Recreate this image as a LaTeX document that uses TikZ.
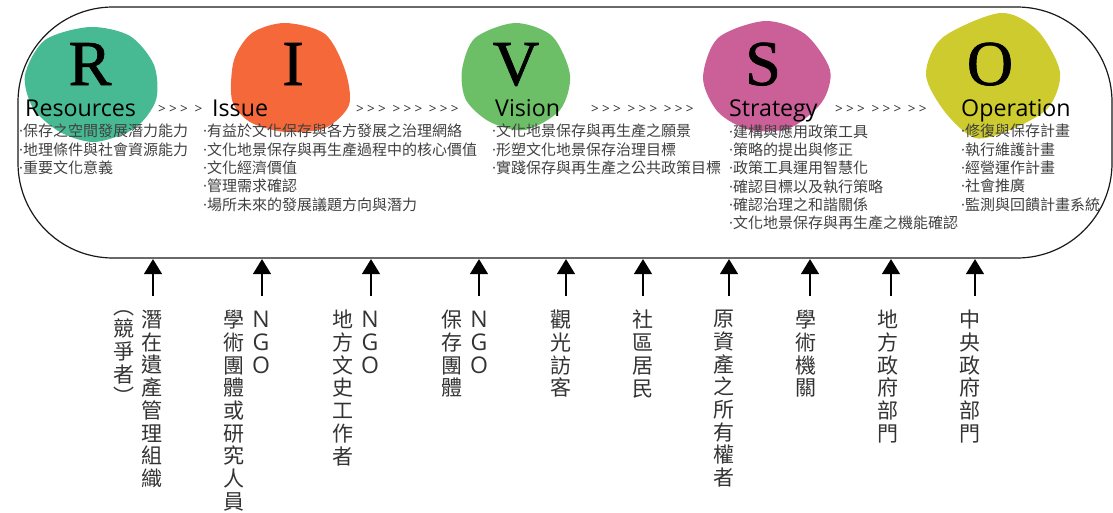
\documentclass[tikz,border=0pt]{standalone}
\usepackage{fontspec}
\setmainfont{Open Sans}
\newfontfamily\cjk{Noto Sans CJK TC}
\newfontfamily\capfont[RawFeature={embolden=1.2}]{Liberation Serif}
\newfontfamily\chevfont[LetterSpace=24]{Open Sans}
\usetikzlibrary{positioning,arrows.meta}
\definecolor{colR}{HTML}{48BA93}
\definecolor{colI}{HTML}{F4683A}
\definecolor{colV}{HTML}{6DBF67}
\definecolor{colS}{HTML}{CB6098}
\definecolor{colO}{HTML}{CDCB2E}
\newcommand{\dt}{{\rmfamily ·}}
\tikzset{
    frameB/.style={draw=black!90, line width=1.2pt, rounded corners=95pt, minimum width=1094pt, minimum height=251pt, inner sep=0mm},
    capL/.style={font=\capfont\fontsize{64}{64}\selectfont, inner sep=0mm, anchor=base},
    titleL/.style={font=\fontsize{23.2}{24}\selectfont, inner sep=0mm, anchor=base west},
    chevL/.style={font=\chevfont\fontsize{13.5}{14}\selectfont, text=black!80, inner sep=0mm, anchor=base west},
    listL/.style={font=\cjk\fontsize{15}{18.3}\selectfont, text=black!75, align=left, inner sep=0mm, anchor=north west},
    vertL/.style={font=\cjk\fontsize{21}{22.7}\selectfont, text=black!80, align=center, inner sep=0mm, anchor=north},
    ngoL/.style={font=\fontsize{23}{22.7}\selectfont, text=black!80, align=center, inner sep=0mm, anchor=north},
    stake/.style={draw=black, line width=1.3pt, -{Triangle[length=15pt,width=18pt]}, shorten >=0.5pt}
}
\begin{document}
\begin{tikzpicture}[x=1pt,y=-1pt]
	\useasboundingbox (0,0) rectangle (1113,512);
	% blobs
	\fill[colR] plot[smooth cycle] coordinates {(90,27) (130,36) (154,65) (156,100) (135,128) (95,142) (60,132) (33,108) (25,75) (45,40)};
	\fill[colI] plot[smooth cycle] coordinates {(285,23) (325,34) (345,70) (349,105) (325,128) (285,132) (250,122) (232,100) (234,60) (252,33)};
	\fill[colV] plot[smooth cycle] coordinates {(515,23) (552,36) (570,75) (560,110) (525,130) (490,122) (466,100) (462,70) (475,38)};
	\fill[colS] plot[smooth cycle] coordinates {(765,21) (805,34) (830,70) (822,102) (790,128) (750,130) (718,112) (703,78) (718,38)};
	\fill[colO] plot[smooth cycle] coordinates {(1000,13) (1037,30) (1060,72) (1048,108) (1010,130) (975,138) (945,112) (926,75) (942,38)};

	\node[frameB] (frame) at (565,132.5) {};

	\node[capL] (capR) at (90,85) {R};
	\node[capL] (capI) at (293,85) {I};
	\node[capL] (capV) at (516,85) {V};
	\node[capL] (capS) at (763,85) {S};
	\node[capL] (capO) at (990,85) {O};

	\node[titleL] (resources) at (25,116) {Resources};
	\node[titleL] (issue) at (212,116) {Issue};
	\node[titleL] (vision) at (495,116) {Vision};
	\node[titleL] (strategy) at (729,116) {Strategy};
	\node[titleL] (operation) at (961,116) {Operation};

	\node[chevL] (chev1) at (158,113) {>>> >};
	\node[chevL] (chev2) at (356,113) {>>> >>> >>>};
	\node[chevL] (chev3) at (591,113) {>>> >>> >>>};
	\node[chevL] (chev4) at (835,113) {>>> >>> >>};

	\node[listL] (listR) at (19,124) {\dt 保存之空間發展潛力能力\\\dt 地理條件與社會資源能力\\\dt 重要文化意義};
	\node[listL] (listI) at (203,124) {\dt 有益於文化保存與各方發展之治理網絡\\\dt 文化地景保存與再生產過程中的核心價值\\\dt 文化經濟價值\\\dt 管理需求確認\\\dt 場所未來的發展議題方向與潛力};
	\node[listL] (listV) at (492,124) {\dt 文化地景保存與再生產之願景\\\dt 形塑文化地景保存治理目標\\\dt 實踐保存與再生產之公共政策目標};
	\node[listL] (listS) at (729,124) {\dt 建構與應用政策工具\\\dt 策略的提出與修正\\\dt 政策工具運用智慧化\\\dt 確認目標以及執行策略\\\dt 確認治理之和諧關係\\\dt 文化地景保存與再生產之機能確認};
	\node[listL] (listO) at (961,124) {\dt 修復與保存計畫\\\dt 執行維護計畫\\\dt 經營運作計畫\\\dt 社會推廣\\\dt 監測與回饋計畫系統};

	\foreach \n/\x in {1/153,2/262,3/371,4/479,5/566,6/643,7/729,8/810,9/891,10/975}{
		\coordinate (foot\n) at (\x,296);
		\draw[stake] (foot\n) -- (foot\n |- frame.south);
	}

	\node[vertL] (heritage) at (152,310) {潛\\在\\遺\\產\\管\\理\\組\\織};
	\node[vertL] (rival) at (124,310) {︵\\競\\爭\\者\\︶};
	\node[ngoL] (ngoA) at (261,311) {N\\G\\O};
	\node[vertL] (scholars) at (234,310) {學\\術\\團\\體\\或\\研\\究\\人\\員};
	\node[ngoL] (ngoB) at (370,311) {N\\G\\O};
	\node[vertL] (localists) at (343,310) {地\\方\\文\\史\\工\\作\\者};
	\node[ngoL] (ngoC) at (479,311) {N\\G\\O};
	\node[vertL] (preserve) at (452,310) {保\\存\\團\\體};
	\node[vertL] (tourists) at (561,310) {觀\\光\\訪\\客};
	\node[vertL] (residents) at (643,310) {社\\區\\居\\民};
	\node[vertL] (owners) at (724,310) {原\\資\\產\\之\\所\\有\\權\\者};
	\node[vertL] (academy) at (806,310) {學\\術\\機\\關};
	\node[vertL] (localgov) at (888,310) {地\\方\\政\\府\\部\\門};
	\node[vertL] (centralgov) at (970,310) {中\\央\\政\\府\\部\\門};
\end{tikzpicture}
\end{document}
